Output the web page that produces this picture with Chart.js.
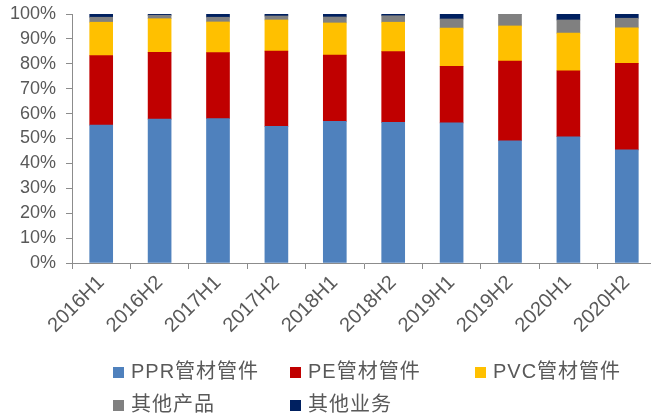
<!DOCTYPE html>
<html>
<head>
<meta charset="utf-8">
<script src="https://cdn.jsdelivr.net/npm/chart.js@4"></script>
<style>
  html, body { margin: 0; padding: 0; background: #fff; overflow: hidden; }
  #wrap { position: relative; width: 651px; height: 416px; overflow: hidden; }
  #box { position: absolute; left: 0; top: 0; width: 656px; height: 343px; }
  #legend { position: absolute; left: 0; top: 0; width: 651px; height: 416px; pointer-events: none;
    font-family: "Liberation Sans", "Noto Sans CJK SC", sans-serif; font-size: 20px; letter-spacing: 1px; color: #595959; }
  .item { position: absolute; white-space: nowrap; line-height: 22px; }
  .sw { display: inline-block; width: 11px; height: 11px; margin-right: 7px; vertical-align: 0px; }
</style>
</head>
<body>
<div id="wrap">
  <div id="box"><canvas id="chart"></canvas></div>
  <div id="legend"></div>
</div>
<script>
const categories = ["2016H1", "2016H2", "2017H1", "2017H2", "2018H1", "2018H2", "2019H1", "2019H2", "2020H1", "2020H2"];
const seriesNames = ["PPR管材管件", "PE管材管件", "PVC管材管件", "其他产品", "其他业务"];
const ppr = [55.4, 57.8, 58.0, 54.9, 56.9, 56.5, 56.3, 49.1, 50.7, 45.4];
const pe = [27.9, 26.8, 26.5, 30.2, 26.6, 28.4, 22.7, 32.0, 26.5, 34.8];
const pvc = [13.4, 13.5, 12.3, 12.5, 12.9, 11.8, 15.3, 14.1, 15.1, 14.2];
const otherProducts = [2.0, 1.4, 1.9, 1.6, 2.4, 2.6, 3.7, 4.8, 5.3, 3.9];
const otherBusiness = [1.3, 0.5, 1.3, 0.8, 1.2, 0.7, 2.0, 0.0, 2.4, 1.7];
const yTicks = [0, 10, 20, 30, 40, 50, 60, 70, 80, 90, 100];

const colors = ["#4F81BD", "#C00000", "#FFC000", "#808080", "#002060"];
const values = [ppr, pe, pvc, otherProducts, otherBusiness];

// legend positions (two rows, three columns like the original)
const legendSpots = [[113, 360], [290, 360], [475, 360], [113, 393], [290, 393]];

document.addEventListener('DOMContentLoaded', function() {
  const fontFamily = '"Liberation Sans", "Noto Sans CJK SC", sans-serif';
  const axisColor = '#8C8C8C';
  const textColor = '#595959';

  const datasets = seriesNames.map(function(name, i) {
    return {
      label: name,
      data: values[i],
      backgroundColor: colors[i],
      borderWidth: 0,
      barThickness: 23
    };
  });

  new Chart(document.getElementById('chart'), {
    type: 'bar',
    data: { labels: categories, datasets: datasets },
    options: {
      responsive: true,
      maintainAspectRatio: false,
      animation: false,
      layout: { padding: { top: 14, right: 0, bottom: 0, left: 0 } },
      plugins: { legend: { display: false }, tooltip: { enabled: false } },
      scales: {
        x: {
          stacked: true,
          grid: { offset: true, drawOnChartArea: false, drawTicks: true, tickLength: 6, color: axisColor },
          border: { color: axisColor, width: 1 },
          ticks: {
            color: textColor, font: { family: fontFamily, size: 20 },
            minRotation: 45, maxRotation: 45, padding: 2, autoSkip: false
          },
          afterFit: function(scale) {
            scale.height = 80;
            scale.paddingLeft = 0;
            scale.paddingRight = 0;
          }
        },
        y: {
          stacked: true,
          min: 0,
          max: 100,
          afterBuildTicks: function(scale) {
            scale.ticks = yTicks.map(function(v) { return { value: v }; });
          },
          grid: { drawOnChartArea: false, drawTicks: true, tickLength: 6, color: axisColor },
          border: { color: axisColor, width: 1 },
          ticks: {
            color: textColor, font: { family: fontFamily, size: 18 }, padding: 10, autoSkip: false,
            callback: function(v) { return v + '%'; }
          },
          afterFit: function(scale) {
            scale.width = 72;
            scale.paddingTop = 0;
            scale.paddingBottom = 0;
          }
        }
      }
    }
  });

  const legend = document.getElementById('legend');
  seriesNames.forEach(function(name, i) {
    const item = document.createElement('div');
    item.className = 'item';
    item.style.left = legendSpots[i][0] + 'px';
    item.style.top = legendSpots[i][1] + 'px';
    const sw = document.createElement('span');
    sw.className = 'sw';
    sw.style.background = colors[i];
    item.appendChild(sw);
    item.appendChild(document.createTextNode(name));
    legend.appendChild(item);
  });
});
</script>
</body>
</html>
